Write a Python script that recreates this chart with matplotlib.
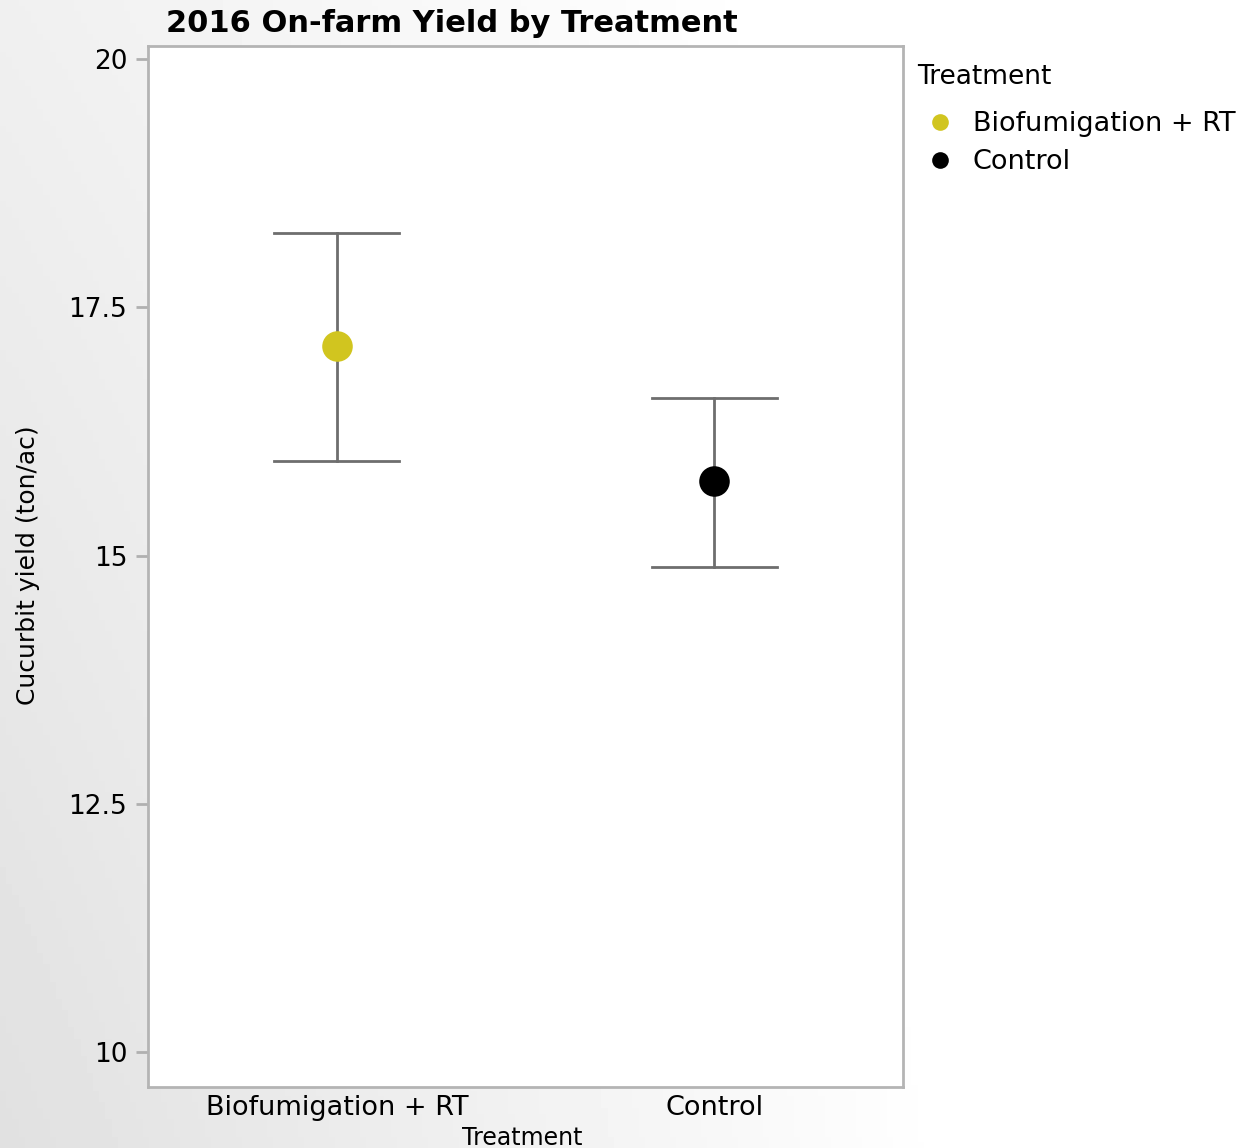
import numpy as np
import matplotlib.pyplot as plt
from matplotlib.lines import Line2D

treatments = ['Biofumigation + RT', 'Control']
yield_mean = [17.11, 15.75]
ci_low = [15.95, 14.89]
ci_high = [18.25, 16.59]
colors = ['#d1c51f', '#000000']

W, H = 1240, 1148
fig = plt.figure(figsize=(W / 100, H / 100), dpi=100)

# grey-to-white backdrop behind everything
bg = fig.add_axes([0, 0, 1, 1], zorder=-10)
gx = np.linspace(0, 1, 200)
gy = np.linspace(0, 1, 200)
X, Y = np.meshgrid(gx, gy)
shade = 0.88 + 0.12 * np.clip(X * 1.3, 0, 1) + 0.06 * (1 - Y) * (1 - X)
shade = np.clip(shade, 0, 1)
bg.imshow(shade, cmap='gray', vmin=0, vmax=1, aspect='auto', extent=[0, 1, 0, 1])
bg.axis('off')

ax = fig.add_axes([148 / W, 1 - 1087 / H, (903 - 148) / W, (1087 - 46) / H])
ax.set_facecolor('white')

x = np.arange(1, len(treatments) + 1)
for i in range(len(treatments)):
    ax.plot([x[i], x[i]], [ci_low[i], ci_high[i]], color='#6e6e6e', lw=2, zorder=2)
    for yv in (ci_low[i], ci_high[i]):
        ax.plot([x[i] - 0.165, x[i] + 0.165], [yv, yv], color='#6e6e6e', lw=2, zorder=2)
    ax.plot(x[i], yield_mean[i], 'o', color=colors[i], ms=22, mec='none', zorder=3)

ax.set_xlim(0.5, 2.5)
ax.set_ylim(9.65, 20.13)
ax.set_yticks([10, 12.5, 15, 17.5, 20])
ax.set_yticklabels(['10', '12.5', '15', '17.5', '20'])
ax.set_xticks(x)
ax.set_xticklabels(treatments)
ax.tick_params(axis='y', length=9, width=2, color='#b0b0b0', labelsize=19, pad=6)
ax.tick_params(axis='x', length=0, labelsize=19.5, pad=6)
for s in ax.spines.values():
    s.set_color('#b4b4b4')
    s.set_linewidth(2)

fig.text(166 / W, 1 - 23 / H, '2016 On-farm Yield by Treatment', fontsize=22,
         fontweight='bold', ha='left', va='center')
fig.text(522 / W, 1 - 1138 / H, 'Treatment', fontsize=17, ha='center', va='center')
fig.text(28 / W, 1 - 565 / H, 'Cucurbit yield (ton/ac)', fontsize=18, rotation=90,
         ha='center', va='center')

# legend
fig.text(917 / W, 1 - 77 / H, 'Treatment', fontsize=19, ha='left', va='center')
handles = [Line2D([], [], ls='none', marker='o', color=c, ms=12, mec='none')
           for c in colors]
ax.legend(handles, treatments, loc='upper left',
          bbox_to_anchor=(917 / W, 1 - 111 / H), bbox_transform=fig.transFigure,
          frameon=False, fontsize=19.5, handlelength=1.7, borderpad=0,
          handletextpad=0.35, labelspacing=0.45, borderaxespad=0)

fig.savefig('out.png', dpi=100)
